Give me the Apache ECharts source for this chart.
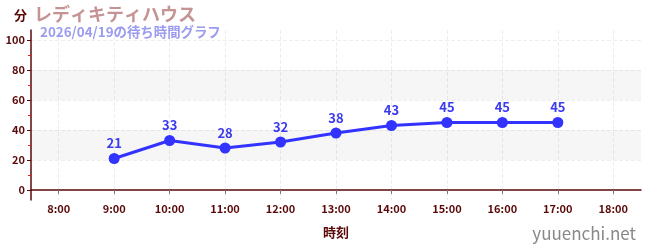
<!DOCTYPE html>
<html><head><meta charset="utf-8">
<script src="https://cdn.jsdelivr.net/npm/echarts@6/dist/echarts.min.js"></script>
<style>html,body{margin:0;padding:0;background:#fff}#c{width:650px;height:250px}</style>
</head><body><div id="c"></div>
<script>
const times = ['9:00','10:00','11:00','12:00','13:00','14:00','15:00','16:00','17:00'];
const waits = [21,33,28,32,38,43,45,45,45];
const xTickLabels = ['8:00','9:00','10:00','11:00','12:00','13:00','14:00','15:00','16:00','17:00','18:00'];
const yTickValues = [0,20,40,60,80,100];
const yMinorValues = [10,30,50,70,90];
const titleText = 'レディキティハウス';
const subtitleText = '2026/04/19の待ち時間グラフ';

const toHour = s => { const p = s.split(':'); return +p[0] + (+p[1]) / 60; };
const xTicks = xTickLabels.map(toHour);
const font = 'Noto Sans CJK JP';
const axisColor = '#5a0a0a';

const chart = echarts.init(document.getElementById('c'), null, {renderer: 'canvas'});
chart.setOption({
  animation: false,
  textStyle: {fontFamily: font},
  title: [
    {text: titleText, left: 29, top: 0, textStyle: {fontFamily: font, fontSize: 18, fontWeight: 'bold', color: '#c49494'}},
    {text: subtitleText, left: 35, top: 20, textStyle: {fontFamily: font, fontSize: 13.4, fontWeight: 'bold', color: '#9b9bf0'}},
    {text: 'yuuenchi.net', right: 9, top: 220, textStyle: {fontFamily: font, fontSize: 17, fontWeight: 'normal', color: '#888'}}
  ],
  grid: {left: 31, right: 9, top: 30, bottom: 50, containLabel: false},
  xAxis: {
    type: 'value', min: 7.5, max: 18.5,
    name: '時刻', nameLocation: 'middle', nameGap: 26,
    nameTextStyle: {fontFamily: font, fontSize: 13, fontWeight: 'bold', color: axisColor},
    axisLine: {show: true, lineStyle: {color: axisColor, width: 1.5}},
    axisTick: {show: true, customValues: xTicks, length: 4, lineStyle: {color: '#777'}},
    axisLabel: {customValues: xTicks, formatter: v => xTickLabels[xTicks.indexOf(v)] || '', fontFamily: font, fontSize: 11, fontWeight: 'bold', color: axisColor, margin: 3},
    splitLine: {show: true, lineStyle: {type: 'dashed', color: '#eeeeee'}}
  },
  yAxis: [{
    type: 'value', min: -6.67, max: 106.67,
    name: '分', nameLocation: 'end', nameGap: 8,
    nameTextStyle: {fontFamily: font, fontSize: 13, fontWeight: 'bold', color: axisColor, align: 'right', padding: [0, 4, 0, 0]},
    axisLine: {show: true, lineStyle: {color: axisColor, width: 1.5}},
    axisTick: {show: true, customValues: yTickValues, length: 4, lineStyle: {color: axisColor}},
    axisLabel: {customValues: yTickValues, fontFamily: font, fontSize: 11, fontWeight: 'bold', color: axisColor, margin: 6},
    splitLine: {show: true, lineStyle: {type: 'dashed', color: '#eeeeee'}},
    splitArea: {show: false}
  }, {
    type: 'value', min: -6.67, max: 106.67, position: 'left',
    axisLine: {show: false},
    axisTick: {show: true, customValues: yMinorValues, length: 3, lineStyle: {color: '#e02020'}},
    axisLabel: {show: false},
    splitLine: {show: false}
  }],
  series: [{
    type: 'line',
    data: times.map((t, i) => [toHour(t), waits[i]]),
    symbol: 'circle', symbolSize: 11,
    lineStyle: {color: '#3333ff', width: 3},
    itemStyle: {color: '#3333ff'},
    label: {show: true, position: 'top', distance: 3, fontFamily: font, fontSize: 13, fontWeight: 'bold', color: '#3a3af0'},
    markArea: {silent: true, itemStyle: {color: 'rgba(0,0,0,0.035)'}, data: [
      [{yAxis: 20}, {yAxis: 40}],
      [{yAxis: 60}, {yAxis: 80}]
    ]}
  }]
});
</script></body></html>
